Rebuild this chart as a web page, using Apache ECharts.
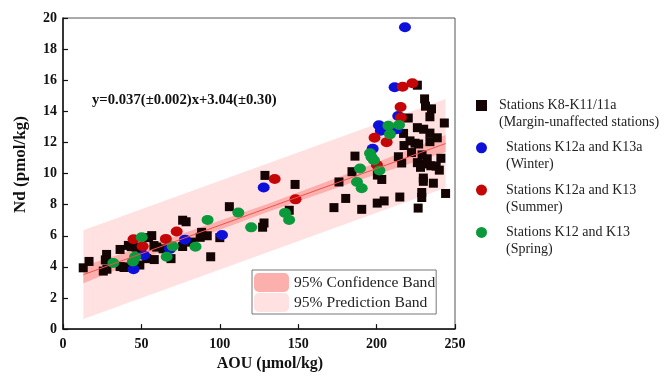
<!DOCTYPE html>
<html>
<head>
<meta charset="utf-8">
<script src="https://cdn.jsdelivr.net/npm/echarts@6/dist/echarts.min.js"></script>
<style>
  html, body { margin: 0; padding: 0; background: #fff; }
  #chart { width: 666px; height: 377px; }
</style>
</head>
<body>
<div id="chart"></div>
<script>
// points: [AOU, Nd]
var marginUnaffected = [
  [12.9, 3.94], [16.6, 4.35], [25.7, 3.73], [28, 3.85], [27, 4.45], [27.8, 4.8],
  [36.4, 5.12], [36.4, 4.02], [38.9, 3.96], [41.5, 4.0], [41.7, 5.38], [43.5, 5.3],
  [46.6, 5.27], [49, 4.12], [50, 5.0], [53.4, 4.53], [58.2, 4.47], [56.6, 6.01],
  [54.5, 5.88], [58, 5.37], [59.8, 5.27], [63.8, 5.16], [68.9, 4.53], [76.3, 5.31],
  [76.3, 7.0], [78.5, 6.9], [82, 5.59], [88.4, 6.22], [87.5, 5.9], [92, 6.0],
  [94.2, 4.65], [100, 5.88], [106.1, 7.87],
  [128.8, 9.88], [128.2, 6.82], [127.3, 6.55], [144.3, 7.64], [148, 9.3],
  [172.8, 7.81], [176, 9.46], [180.3, 8.4], [184.3, 10.12], [186.2, 11.12], [190.5, 7.7],
  [200.4, 8.1], [204.8, 8.24], [200.5, 9.9], [203.3, 9.62], [214.8, 8.49], [213.9, 11.08],
  [216, 10.68], [217.2, 12.58], [217.5, 11.8], [220.2, 13.57], [221.3, 12.1], [222.3, 11.35],
  [224.5, 11.95], [226.8, 11.9], [226, 15.68], [226, 12.95], [230, 12.85], [234, 12.6],
  [234, 12.05], [229, 11.2], [232.3, 10.95], [229.4, 10.62], [234.6, 10.5], [226.5, 7.78],
  [228.8, 8.46], [228.8, 8.78], [229.8, 9.71], [229.8, 9.5], [236.2, 9.38], [238, 10.48],
  [240, 10.22], [241, 10.98], [230.6, 14.8], [231.2, 14.33], [235, 14.16], [234, 13.65],
  [243.2, 13.25], [244, 8.72], [238.7, 12.3], [226, 10.7], [228, 10.4]
];
var winter = [
  [45, 3.85], [51.7, 4.75], [68.2, 5.15], [77.8, 5.75], [101.4, 6.05], [128, 9.1],
  [197.5, 11.6], [201.5, 13.1], [202.7, 12.75], [212.8, 12.85], [213.8, 13.7],
  [211.5, 15.55], [218.1, 19.4]
];
var summer = [
  [45, 5.78], [50.8, 5.33], [65.6, 5.8], [72.5, 6.27], [135, 9.65], [148.3, 8.34],
  [198.7, 12.3], [200.2, 10.55], [206.4, 12.02], [215.3, 14.28], [215.5, 13.6],
  [216.6, 15.58], [222.8, 15.8]
];
var spring = [
  [32.1, 4.25], [44.6, 4.35], [46, 4.65], [50.2, 5.9], [66.1, 4.65], [70, 5.32],
  [84.5, 5.3], [92.2, 7.02], [111.8, 7.49], [120, 6.54], [141.6, 7.47], [144.2, 7.02],
  [187.5, 9.46], [190.5, 9.06], [189.4, 10.32], [195.8, 11.3], [196.8, 11.05],
  [198.3, 10.85], [201.8, 10.2], [207.5, 13.07], [208.5, 12.52], [214.3, 13.12]
];

// regression line and bands
var fitLine = [[13, 3.5], [244, 11.93]];
var confX = [13, 60, 130, 190, 244];
var confUpper = [4.05, 5.57, 8.02, 10.31, 12.48];
var confLower = [2.95, 4.87, 7.52, 9.61, 11.38];
var predX = [13, 244];
var predUpper = [6.35, 14.8];
var predLower = [0.65, 9.08];

var seriesNames = [
  'Stations K8-K11/11a\n(Margin-unaffected stations)',
  'Stations K12a and K13a\n(Winter)',
  'Stations K12a and K13\n(Summer)',
  'Stations K12 and K13\n(Spring)'
];
var bandNames = ['95% Confidence Band', '95% Prediction Band'];
var equation = 'y=0.037(\u00b10.002)x+3.04(\u00b10.30)';
var serif = '"Liberation Serif", "Times New Roman", serif';

function bandSeries(name, xs, up, lo, color) {
  return {
    name: name,
    type: 'custom',
    silent: true,
    itemStyle: { color: color },
    data: [0],
    renderItem: function (params, api) {
      var pts = [];
      for (var i = 0; i < xs.length; i++) pts.push(api.coord([xs[i], up[i]]));
      for (var j = xs.length - 1; j >= 0; j--) pts.push(api.coord([xs[j], lo[j]]));
      return {
        type: 'polygon',
        shape: { points: pts },
        style: { fill: color, stroke: null }
      };
    }
  };
}

function pointSeries(name, data, color, symbol, size) {
  return {
    name: name,
    type: 'scatter',
    symbol: symbol,
    symbolSize: size,
    itemStyle: { color: color, opacity: 1 },
    data: data
  };
}

var chart = echarts.init(document.getElementById('chart'));
chart.setOption({
  animation: false,
  grid: {
    left: 63, top: 18, right: 211, bottom: 44,
    show: true, borderColor: '#555', borderWidth: 1, backgroundColor: 'transparent'
  },
  xAxis: {
    type: 'value', min: 0, max: 250, interval: 50,
    name: 'AOU (\u03bcmol/kg)', nameLocation: 'middle', nameGap: 20,
    nameTextStyle: {
      fontFamily: serif, fontWeight: 'bold', fontSize: 16, color: '#111',
      verticalAlign: 'top', padding: [0, 0, 0, 22]
    },
    axisLine: { lineStyle: { color: '#111', width: 1.5 } },
    axisTick: { inside: true, length: 5, lineStyle: { color: '#111', width: 1.2 } },
    axisLabel: { fontFamily: serif, fontWeight: 'bold', fontSize: 14, color: '#111', margin: 8 },
    splitLine: { show: false }
  },
  yAxis: {
    type: 'value', min: 0, max: 20, interval: 2,
    name: 'Nd (pmol/kg)', nameLocation: 'middle', nameGap: 34,
    nameTextStyle: {
      fontFamily: serif, fontWeight: 'bold', fontSize: 17, color: '#111',
      padding: [0, 0, 0, 18]
    },
    axisLine: { show: true, lineStyle: { color: '#111', width: 1.5 } },
    axisTick: { show: true, inside: true, length: 5, lineStyle: { color: '#111', width: 1.2 } },
    axisLabel: { fontFamily: serif, fontWeight: 'bold', fontSize: 14, color: '#111', margin: 6 },
    splitLine: { show: false }
  },
  legend: [{
    data: [
      { name: seriesNames[0], icon: 'path://M0,0L10,0L10,10L0,10Z' },
      { name: seriesNames[1], icon: 'circle' },
      { name: seriesNames[2], icon: 'circle' },
      { name: seriesNames[3], icon: 'circle' }
    ],
    orient: 'vertical', left: 476, top: 80, padding: 0,
    itemWidth: 18, itemHeight: 11, itemGap: -8.7, symbolKeepAspect: true,
    formatter: function (name) {
      // blank first line keeps the marker level with the first text line
      var indent = name === seriesNames[0] ? ' ' : '   ';
      return '\n' + name.split('\n').map(function (s) { return indent + s; }).join('\n');
    },
    textStyle: { fontFamily: serif, fontSize: 14, color: '#222', lineHeight: 17 }
  }, {
    data: bandNames,
    orient: 'vertical', left: 252, top: 270,
    padding: [3, 1, 2, 2], itemGap: 1,
    itemWidth: 35, itemHeight: 19,
    borderColor: '#777', borderWidth: 1, backgroundColor: '#fff',
    textStyle: { fontFamily: serif, fontSize: 15.6, color: '#222' }
  }],
  graphic: [{
    type: 'text', left: 92, top: 93,
    style: { text: equation, font: 'bold 14.7px ' + serif, fill: '#111' }
  }],
  series: [
    bandSeries(bandNames[1], predX, predUpper, predLower, '#ffe1e1'),
    bandSeries(bandNames[0], confX, confUpper, confLower, '#fbb0ad'),
    {
      name: 'fit', type: 'line', data: fitLine, showSymbol: false, silent: true,
      lineStyle: { color: '#f0524d', width: 1 }
    },
    pointSeries(seriesNames[0], marginUnaffected, '#140404', 'rect', 9),
    pointSeries(seriesNames[1], winter, '#0c10d8', 'circle', [12, 10]),
    pointSeries(seriesNames[2], summer, '#c40606', 'circle', [12, 10]),
    pointSeries(seriesNames[3], spring, '#0a9a3c', 'circle', [12, 10])
  ]
});
</script>
</body>
</html>
